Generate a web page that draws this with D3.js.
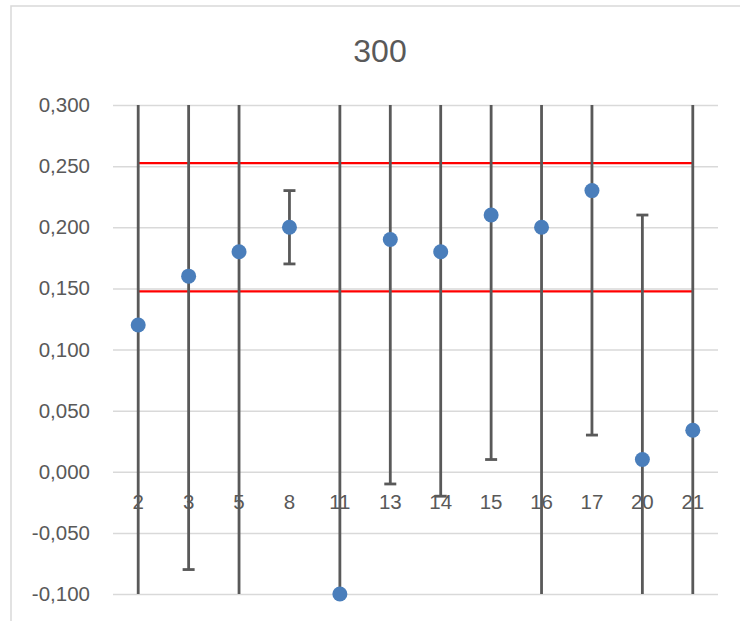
<!DOCTYPE html>
<html>
<head>
<meta charset="utf-8">
<script src="https://cdn.jsdelivr.net/npm/d3@7"></script>
<style>
  body { margin: 0; background: #fff; }
  text { font-family: "Liberation Sans", Arial, sans-serif; fill: #595959; }
</style>
</head>
<body>
<div id="chart"></div>
<script>
// data
var categories = ["2", "3", "5", "8", "11", "13", "14", "15", "16", "17", "20", "21"];
var values = [0.12, 0.16, 0.18, 0.20, -0.10, 0.19, 0.18, 0.21, 0.20, 0.23, 0.01, 0.034];
// symmetric error amounts (the ones running off the plot are estimates)
var errors = [0.40, 0.24, 0.40, 0.03, 0.45, 0.20, 0.20, 0.20, 0.40, 0.20, 0.20, 0.40];
var limits = [0.1475, 0.2525];
var yTicks = [-0.1, -0.05, 0, 0.05, 0.1, 0.15, 0.2, 0.25, 0.3];
var title = "300";

var width = 740, height = 621;
var plot = {left: 113, right: 718, top: 105, bottom: 594};

var svg = d3.select("#chart").append("svg")
  .attr("width", width)
  .attr("height", height);

// chart area frame (runs off the right / bottom edge)
svg.append("rect")
  .attr("x", 11).attr("y", 6)
  .attr("width", 760).attr("height", 640)
  .attr("fill", "#fff")
  .attr("stroke", "#d9d9d9")
  .attr("stroke-width", 1.5);

var x = d3.scaleBand().domain(categories).range([plot.left, plot.right]);
var y = d3.scaleLinear().domain([-0.1, 0.3]).range([plot.bottom, plot.top]);
var cx = function(c) { return x(c) + x.bandwidth() / 2; };
var fmt = function(v) { return d3.format(".3f")(v).replace(".", ",").replace("−", "-"); };

svg.append("defs").append("clipPath").attr("id", "plotClip")
  .append("rect")
  .attr("x", plot.left).attr("y", plot.top)
  .attr("width", plot.right - plot.left).attr("height", plot.bottom - plot.top);

// gridlines + y labels
var yAxis = d3.axisLeft(y).tickValues(yTicks).tickSize(-(plot.right - plot.left)).tickFormat(fmt).tickPadding(23);
var gy = svg.append("g").attr("transform", "translate(" + plot.left + ",0)").call(yAxis);
gy.select(".domain").remove();
gy.selectAll(".tick line").attr("stroke", "#d9d9d9").attr("stroke-width", 1.5);
gy.selectAll(".tick text").attr("font-size", 20.5).attr("fill", "#595959");

// category labels sit just under the zero line
var xAxis = d3.axisBottom(x).tickSize(0).tickPadding(23);
var gx = svg.append("g").attr("transform", "translate(0," + y(0) + ")").call(xAxis);
gx.select(".domain").remove();
gx.selectAll(".tick text").attr("font-size", 20.5).attr("fill", "#595959");

var rows = categories.map(function(c, i) {
  return {cat: c, v: values[i], e: errors[i]};
});

var clipped = svg.append("g").attr("clip-path", "url(#plotClip)");

// red limit lines from first to last category
var line = d3.line().x(function(d) { return cx(d); });
limits.forEach(function(l) {
  clipped.append("path")
    .datum([categories[0], categories[categories.length - 1]])
    .attr("d", line.y(function() { return y(l); }))
    .attr("stroke", "#ff0000")
    .attr("stroke-width", 2.3)
    .attr("fill", "none");
});

// error bars
var eb = clipped.selectAll(".err").data(rows).enter().append("g").attr("class", "err")
  .attr("stroke", "#595959").attr("stroke-width", 2.8);
eb.append("line")
  .attr("x1", function(d) { return cx(d.cat); })
  .attr("x2", function(d) { return cx(d.cat); })
  .attr("y1", function(d) { return y(d.v + d.e); })
  .attr("y2", function(d) { return y(d.v - d.e); });
[1, -1].forEach(function(s) {
  eb.append("line")
    .attr("x1", function(d) { return cx(d.cat) - 6; })
    .attr("x2", function(d) { return cx(d.cat) + 6; })
    .attr("y1", function(d) { return y(d.v + s * d.e); })
    .attr("y2", function(d) { return y(d.v + s * d.e); });
});

// markers
svg.selectAll(".pt").data(rows).enter().append("circle").attr("class", "pt")
  .attr("cx", function(d) { return cx(d.cat); })
  .attr("cy", function(d) { return y(d.v); })
  .attr("r", 7.5)
  .attr("fill", "#4a7ebb");

svg.append("text")
  .attr("x", 380).attr("y", 62)
  .attr("text-anchor", "middle")
  .attr("font-size", 32)
  .text(title);
</script>
</body>
</html>
